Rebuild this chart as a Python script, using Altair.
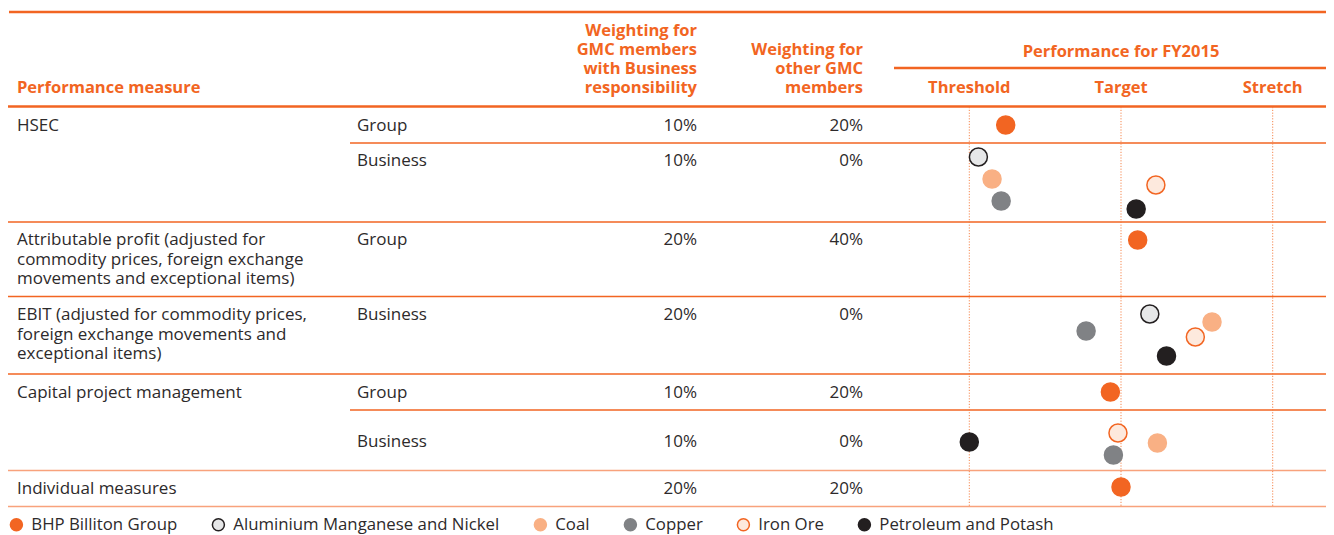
import altair as alt
import pandas as pd

# ---------------- data ----------------
measure_text = [
    "HSEC",
    "",
    "Attributable profit (adjusted for\ncommodity prices, foreign exchange\nmovements and exceptional items)",
    "EBIT (adjusted for commodity prices,\nforeign exchange movements and\nexceptional items)",
    "Capital project management",
    "",
    "Individual measures",
]
scope_text = ["Group", "Business", "Group", "Business", "Group", "Business", ""]
weight_business = ["10%", "10%", "20%", "20%", "10%", "10%", "20%"]
weight_other = ["20%", "0%", "40%", "0%", "20%", "0%", "20%"]

businesses = ["BHP Billiton Group", "Aluminium Manganese and Nickel", "Coal",
              "Copper", "Iron Ore", "Petroleum and Potash"]
fill_colors = ["#f26522", "#e6e7e8", "#f9b084", "#808285", "#fde9dd", "#231f20"]
stroke_colors = ["#f26522", "#231f20", "#f9b084", "#808285", "#f26522", "#231f20"]

perf_levels = ["Threshold", "Target", "Stretch"]   # 0, 1, 2 on the performance scale

# each dot: row index, business, performance (0 threshold, 1 target, 2 stretch)
dot_row = [0, 1, 1, 1, 1, 1, 2, 3, 3, 3, 3, 3, 4, 5, 5, 5, 5, 6]
dot_business = ["BHP Billiton Group",
                "Aluminium Manganese and Nickel", "Coal", "Copper", "Iron Ore", "Petroleum and Potash",
                "BHP Billiton Group",
                "Aluminium Manganese and Nickel", "Coal", "Copper", "Iron Ore", "Petroleum and Potash",
                "BHP Billiton Group",
                "Iron Ore", "Coal", "Petroleum and Potash", "Copper",
                "BHP Billiton Group"]
dot_perf = [0.24,
            0.06, 0.15, 0.21, 1.23, 1.10,
            1.11,
            1.19, 1.60, 0.77, 1.49, 1.30,
            0.93,
            0.98, 1.24, 0.00, 0.95,
            1.00]

# ---------------- layout (page pixels) ----------------
W, H = 1318, 527
ORANGE = "#f26522"
LIGHT = "#f8a27c"
TEXT = "#2d2a2b"
FONT = "Open Sans"
FS = 17
LH = 19.5

row_text_y = [126, 161, 240, 315, 393, 442, 489]
dot_y = [125, 157, 179, 201, 185, 209, 240, 314, 322, 331, 337, 356, 392, 433, 443, 442, 455, 487]

X_PAGE = alt.Scale(domain=[8, 8 + W], range=[0, W])
Y_PAGE = alt.Scale(domain=[8, 8 + H], range=[0, H])
X_PERF = alt.Scale(domain=[0, 2], range=[969.3 - 8, 1272.7 - 8])

# horizontal rules
hl = pd.DataFrame([
    dict(x=9, x2=1334, y=12, w=2.6, c=ORANGE),
    dict(x=894, x2=1334, y=68, w=2.3, c=ORANGE),
    dict(x=7, x2=1334, y=106.5, w=2.6, c=ORANGE),
    dict(x=350, x2=1334, y=143, w=1.4, c=ORANGE),
    dict(x=7, x2=1334, y=222, w=1.4, c=ORANGE),
    dict(x=7, x2=1334, y=296.5, w=1.4, c=ORANGE),
    dict(x=7, x2=1334, y=374, w=1.4, c=ORANGE),
    dict(x=350, x2=1334, y=410, w=1.4, c=ORANGE),
    dict(x=7, x2=1334, y=470.5, w=1.7, c=LIGHT),
    dict(x=7, x2=1334, y=506.5, w=1.7, c=LIGHT),
])
hrules = alt.Chart(hl).mark_rule().encode(
    x=alt.X("x:Q", scale=X_PAGE, axis=None),
    x2="x2:Q",
    y=alt.Y("y:Q", scale=Y_PAGE, axis=None),
    strokeWidth=alt.StrokeWidth("w:Q", scale=None),
    color=alt.Color("c:N", scale=None),
)

# header texts
hdr_left = pd.DataFrame([dict(x=17, y=88, t="Performance measure")])
hdr_right_rows = []
for i, t in enumerate(["Weighting for", "GMC members", "with Business", "responsibility"]):
    hdr_right_rows.append(dict(x=697, y=31 + i * 19, t=t))
for i, t in enumerate(["Weighting for", "other GMC", "members"]):
    hdr_right_rows.append(dict(x=863, y=50 + i * 19, t=t))
hdr_right = pd.DataFrame(hdr_right_rows)

hdr_style = dict(font=FONT, fontSize=16.5, fontWeight="bold", color=ORANGE, baseline="middle")
t_hdr_left = alt.Chart(hdr_left).mark_text(align="left", **hdr_style).encode(
    x=alt.X("x:Q", scale=X_PAGE, axis=None), y=alt.Y("y:Q", scale=Y_PAGE, axis=None), text="t:N")
t_hdr_right = alt.Chart(hdr_right).mark_text(align="right", **hdr_style).encode(
    x=alt.X("x:Q", scale=X_PAGE, axis=None), y=alt.Y("y:Q", scale=Y_PAGE, axis=None), text="t:N")

# body texts
left_rows, right_rows = [], []
for i in range(len(measure_text)):
    for j, line in enumerate(measure_text[i].split("\n")):
        if line:
            left_rows.append(dict(x=17, y=row_text_y[i] + j * LH, t=line))
    if scope_text[i]:
        left_rows.append(dict(x=357, y=row_text_y[i], t=scope_text[i]))
    right_rows.append(dict(x=697, y=row_text_y[i], t=weight_business[i]))
    right_rows.append(dict(x=863, y=row_text_y[i], t=weight_other[i]))
body_style = dict(font=FONT, fontSize=FS, color=TEXT, baseline="middle")
t_body_left = alt.Chart(pd.DataFrame(left_rows)).mark_text(align="left", **body_style).encode(
    x=alt.X("x:Q", scale=X_PAGE, axis=None), y=alt.Y("y:Q", scale=Y_PAGE, axis=None), text="t:N")
t_body_right = alt.Chart(pd.DataFrame(right_rows)).mark_text(align="right", **body_style).encode(
    x=alt.X("x:Q", scale=X_PAGE, axis=None), y=alt.Y("y:Q", scale=Y_PAGE, axis=None), text="t:N")

table = alt.layer(hrules, t_hdr_left, t_hdr_right, t_body_left, t_body_right)

# performance section
lev = pd.DataFrame({"p": [0, 1, 2], "t": perf_levels, "y0": [107, 107, 107], "y1": [506, 506, 506], "ty": [88, 88, 88]})
vrules = alt.Chart(lev).mark_rule(color="#f47a3c", strokeWidth=1, strokeDash=[1.2, 1.6], opacity=0.9).encode(
    x=alt.X("p:Q", scale=X_PERF, axis=None),
    y=alt.Y("y0:Q", scale=Y_PAGE, axis=None), y2="y1:Q")
lev_text = alt.Chart(lev).mark_text(align="center", **hdr_style).encode(
    x=alt.X("p:Q", scale=X_PERF, axis=None),
    y=alt.Y("ty:Q", scale=Y_PAGE, axis=None), text="t:N")
title_df = pd.DataFrame({"p": [1], "y": [51.5], "t": ["Performance for FY2015"]})
perf_title = alt.Chart(title_df).mark_text(align="center", **hdr_style).encode(
    x=alt.X("p:Q", scale=X_PERF, axis=None),
    y=alt.Y("y:Q", scale=Y_PAGE, axis=None), text="t:N")

dots_df = pd.DataFrame({"row": dot_row, "Business": dot_business, "perf": dot_perf, "y": dot_y})
legend = alt.Legend(title=None, orient="none", legendX=0, legendY=508, direction="horizontal",
                    columns=6, columnPadding=31, labelOffset=6.5, symbolSize=144,
                    symbolStrokeWidth=1.5, labelFont=FONT, labelFontSize=16.8, labelColor=TEXT,
                    labelLimit=0, symbolType="circle", padding=0)
dots = alt.Chart(dots_df).mark_circle(size=324, opacity=1, strokeWidth=1.5).encode(
    x=alt.X("perf:Q", scale=X_PERF, axis=None),
    y=alt.Y("y:Q", scale=Y_PAGE, axis=None),
    fill=alt.Fill("Business:N", scale=alt.Scale(domain=businesses, range=fill_colors), legend=legend,
                  sort=businesses),
    stroke=alt.Stroke("Business:N", scale=alt.Scale(domain=businesses, range=stroke_colors), legend=legend,
                      sort=businesses),
)

perf = alt.layer(vrules, lev_text, perf_title, dots)

chart = alt.layer(table, perf).resolve_scale(x="independent").properties(
    width=W, height=H, autosize=alt.AutoSizeParams(type="none"), padding=0
).configure_view(stroke=None)

chart.save("out.html", embed_options={"renderer": "svg", "actions": False})
